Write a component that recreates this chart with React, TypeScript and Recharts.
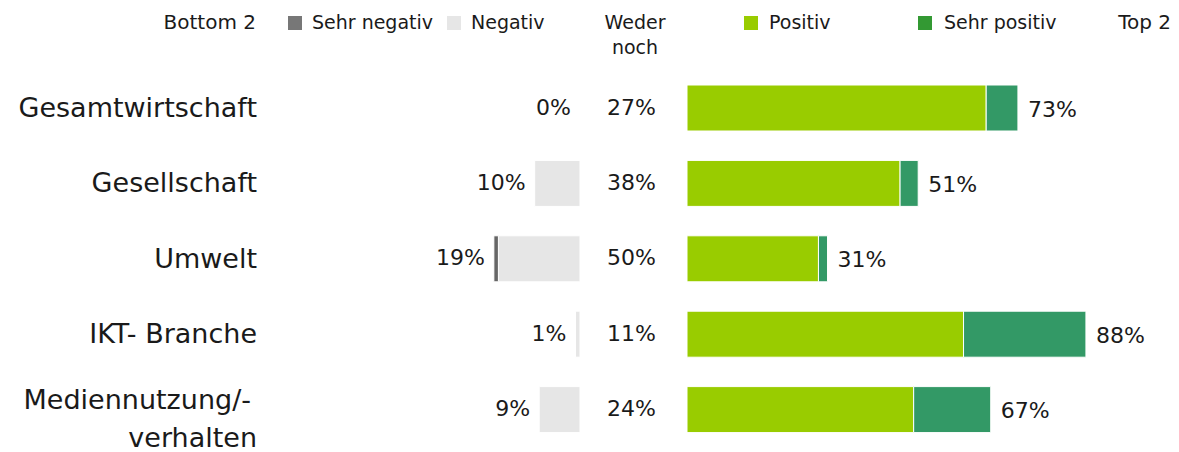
import React from "react";
import { Bar, BarChart, LabelList, Legend, XAxis, YAxis } from "recharts";

// Werte in Prozent
const categories = ["Gesamtwirtschaft", "Gesellschaft", "Umwelt", "IKT- Branche", "Mediennutzung/-verhalten"];
const sehrNegativ = [0, 0, 1, 0, 0];
const negativ = [0, 10, 18, 1, 9];
const wederNoch = [27, 38, 50, 11, 24];
const positiv = [66, 47, 29, 61, 50];
const sehrPositiv = [7, 4, 2, 27, 17];

const FONT = "'DejaVu Sans', Verdana, sans-serif";
const TEXT = "#1a1a1a";
const COLORS = {
  sehrNegativ: "#666666",
  negativ: "#e6e6e6",
  positiv: "#99cc00",
  sehrPositiv: "#339966",
};
const SWATCH = {
  sehrNegativ: "#777777",
  negativ: "#e6e6e6",
  positiv: "#99cc00",
  sehrPositiv: "#339933",
};

// both halves share one scale, the negative half's zero sits left of the positive one
const PX_PER_PCT = 4.533;
const GAP = (687 - 580) / PX_PER_PCT;
const POS_DOMAIN: [number, number] = [-90, 105];
const NEG_DOMAIN: [number, number] = [POS_DOMAIN[0] + GAP, POS_DOMAIN[1] + GAP];

const rows = categories.map((name, i) => ({
  name,
  negativ: 0 - negativ[i],
  sehrNegativ: 0 - sehrNegativ[i],
  wederNoch: wederNoch[i],
  positiv: positiv[i],
  sehrPositiv: sehrPositiv[i],
  bottom2: negativ[i] + sehrNegativ[i],
  top2: positiv[i] + sehrPositiv[i],
}));
type Row = (typeof rows)[number];

const CategoryTick = ({ y, payload }: any) => {
  const label: string = payload.value;
  if (label.includes("/-")) {
    const [head, tail] = label.split("/-");
    return (
      <text textAnchor="end" fontSize={27} fontFamily={FONT} fill={TEXT}>
        <tspan x={251} y={Number(y)}>{head + "/-"}</tspan>
        <tspan x={257} y={Number(y) + 38}>{tail}</tspan>
      </text>
    );
  }
  return (
    <text x={257} y={Number(y) + 9} textAnchor="end" fontSize={27} fontFamily={FONT} fill={TEXT}>
      {label}
    </text>
  );
};

const valueText = {
  fontSize: 22,
  fontFamily: FONT,
  fill: TEXT,
  dominantBaseline: "central" as const,
};

// hangs off the "Positiv" bar, which is never empty; px per percent comes from that bar
const RowLabels = ({ x, y, width, height, value }: any) => {
  const row = value as Row;
  const ppu = Number(width) / row.positiv;
  const cy = Number(y) + Number(height) / 2;
  const zeroPos = Number(x);
  const zeroNeg = zeroPos - GAP * ppu;
  return (
    <g>
      <text x={zeroNeg - row.bottom2 * ppu - 9} y={cy - 1} textAnchor="end" {...valueText}>
        {row.bottom2}%
      </text>
      <text x={(zeroNeg + zeroPos) / 2 - 2} y={cy - 1} textAnchor="middle" {...valueText}>
        {row.wederNoch}%
      </text>
      <text x={zeroPos + row.top2 * ppu + 10} y={cy + 1} textAnchor="start" {...valueText}>
        {row.top2}%
      </text>
    </g>
  );
};

const Header = ({ payload }: any) => {
  const name = (key: string) => payload?.find((p: any) => p.dataKey === key)?.value ?? key;
  const text: React.CSSProperties = {
    position: "absolute",
    fontSize: 19,
    lineHeight: "25px",
    fontFamily: FONT,
    color: TEXT,
    whiteSpace: "nowrap",
  };
  const box = (left: number, color: string): React.CSSProperties => ({
    position: "absolute",
    left,
    top: 16,
    width: 14,
    height: 14,
    background: color,
  });
  return (
    <div style={{ position: "relative", width: 1179, height: 70 }}>
      <span style={{ ...text, right: 1179 - 256, top: 10, fontSize: 20 }}>Bottom 2</span>
      <span style={box(288, SWATCH.sehrNegativ)} />
      <span style={{ ...text, left: 312, top: 10 }}>{name("sehrNegativ")}</span>
      <span style={box(447, SWATCH.negativ)} />
      <span style={{ ...text, left: 471, top: 10 }}>{name("negativ")}</span>
      <span style={{ ...text, left: 585, width: 100, top: 10, textAlign: "center", whiteSpace: "normal" }}>
        Weder
        <br />
        noch
      </span>
      <span style={box(744, SWATCH.positiv)} />
      <span style={{ ...text, left: 769, top: 10 }}>{name("positiv")}</span>
      <span style={box(918, SWATCH.sehrPositiv)} />
      <span style={{ ...text, left: 944, top: 10 }}>{name("sehrPositiv")}</span>
      <span style={{ ...text, right: 1179 - 1171, top: 10, fontSize: 20 }}>Top 2</span>
    </div>
  );
};

export default function App() {
  return (
    <div style={{ position: "absolute", left: 0, top: 0, width: 1179, height: 452, background: "#fff" }}>
      <BarChart
        layout="vertical"
        width={1179}
        height={452}
        data={rows}
        margin={{ top: 70, right: 16, bottom: 5, left: 0 }}
        barSize={46}
        style={{ overflow: "visible" }}
      >
        <XAxis xAxisId="neg" type="number" domain={NEG_DOMAIN} hide />
        <XAxis xAxisId="pos" type="number" domain={POS_DOMAIN} hide />
        <YAxis
          type="category"
          dataKey="name"
          width={279}
          axisLine={false}
          tickLine={false}
          interval={0}
          tick={<CategoryTick />}
        />
        <YAxis yAxisId="negY" type="category" dataKey="name" hide />
        <Legend
          layout="horizontal"
          verticalAlign="middle"
          align="center"
          wrapperStyle={{ position: "absolute", top: 0, left: 0, width: 1179, height: 70 }}
          content={<Header />}
        />
        <Bar
          xAxisId="neg"
          yAxisId="negY"
          dataKey="negativ"
          name="Negativ"
          stackId="neg"
          fill={COLORS.negativ}
          stroke="#ffffff"
          strokeWidth={1}
          isAnimationActive={false}
        />
        <Bar
          xAxisId="neg"
          yAxisId="negY"
          dataKey="sehrNegativ"
          name="Sehr negativ"
          stackId="neg"
          fill={COLORS.sehrNegativ}
          stroke="#ffffff"
          strokeWidth={1}
          isAnimationActive={false}
        />
        <Bar
          xAxisId="pos"
          dataKey="positiv"
          name="Positiv"
          stackId="pos"
          fill={COLORS.positiv}
          stroke="#ffffff"
          strokeWidth={1}
          isAnimationActive={false}
        >
          <LabelList dataKey={(d: Row) => d} content={<RowLabels />} />
        </Bar>
        <Bar
          xAxisId="pos"
          dataKey="sehrPositiv"
          name="Sehr positiv"
          stackId="pos"
          fill={COLORS.sehrPositiv}
          stroke="#ffffff"
          strokeWidth={1}
          isAnimationActive={false}
        />
      </BarChart>
    </div>
  );
}
